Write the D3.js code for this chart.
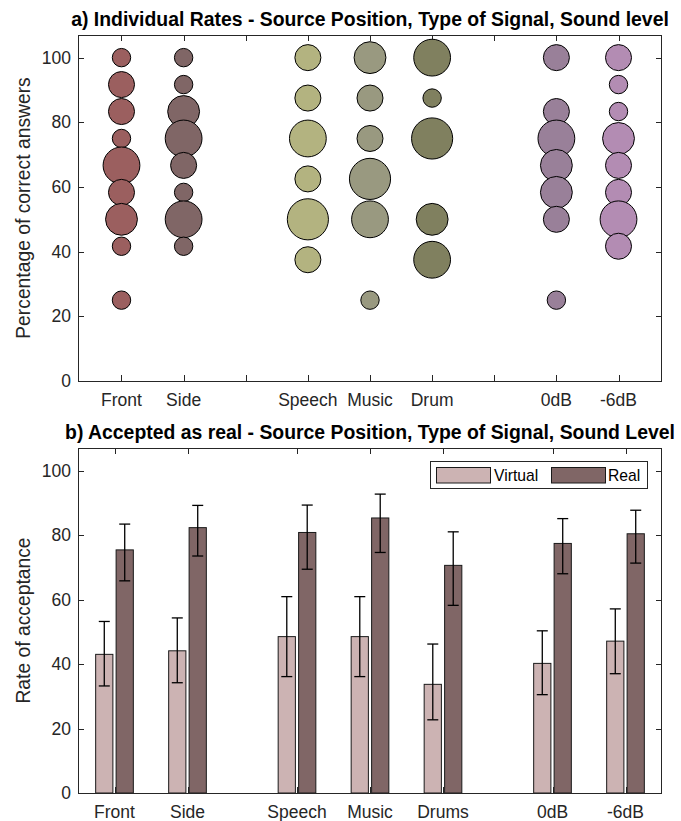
<!DOCTYPE html>
<html>
<head>
<meta charset="utf-8">
<script src="https://cdn.jsdelivr.net/npm/d3@7"></script>
<style>
  html, body { margin: 0; padding: 0; background: #fff; }
  svg { display: block; font-family: "Liberation Sans", Arial, Helvetica, sans-serif; }
</style>
</head>
<body>
<svg id="fig" width="681" height="821"></svg>
<script>
// ---- Panel a: individual rates (bubble size = number of participants) ----
const rateTickLabels = ["Front", "Side", "", "Speech", "Music", "Drum", "", "0dB", "-6dB"];
const rateGroups = ["Front", "Side", "Speech", "Music", "Drum", "0dB", "-6dB"];
const rateGroupSlots = [1, 2, 4, 5, 6, 8, 9];
const rateColors = ["#9b5f5f", "#806666", "#b3b380", "#999980", "#80805f", "#998099", "#b38cb3"];
// [percentage correct, participant count]
const ratesFront  = [[100, 1], [91.67, 2], [83.33, 2], [75, 1], [66.67, 4], [58.33, 2], [50, 3], [41.67, 1], [25, 1]];
const ratesSide   = [[100, 1], [91.67, 1], [83.33, 3], [75, 4], [66.67, 2], [58.33, 1], [50, 4], [41.67, 1]];
const ratesSpeech = [[100, 2], [87.5, 2], [75, 4], [62.5, 2], [50, 5], [37.5, 2]];
const ratesMusic  = [[100, 3], [87.5, 2], [75, 2], [62.5, 5], [50, 4], [25, 1]];
const ratesDrum   = [[100, 4], [87.5, 1], [75, 5], [50, 3], [37.5, 4]];
const rates0dB    = [[100, 2], [83.33, 2], [75, 4], [66.67, 3], [58.33, 3], [50, 2], [25, 1]];
const ratesM6dB   = [[100, 2], [91.67, 1], [83.33, 1], [75, 3], [66.67, 2], [58.33, 2], [50, 4], [41.67, 2]];
const rateSeries = [ratesFront, ratesSide, ratesSpeech, ratesMusic, ratesDrum, rates0dB, ratesM6dB];

// ---- Panel b: acceptance as real ----
const acceptCategories = ["Front", "Side", "Speech", "Music", "Drums", "0dB", "-6dB"];
const acceptSlots = [1, 2, 3.5, 4.5, 5.5, 7, 8];
const virtualMean = [43.0, 44.1, 48.5, 48.5, 33.7, 40.2, 47.1];
const virtualLow  = [33.2, 34.2, 36.1, 36.1, 22.7, 30.5, 37.0];
const virtualHigh = [53.2, 54.3, 60.9, 60.9, 46.2, 50.3, 57.1];
const realMean = [75.4, 82.3, 80.8, 85.3, 70.6, 77.4, 80.4];
const realLow  = [65.8, 73.5, 69.4, 74.6, 58.2, 68.0, 71.3];
const realHigh = [83.4, 89.2, 89.3, 92.7, 81.0, 85.1, 87.7];
const seriesNames = ["Virtual", "Real"];
const seriesColors = ["#ccb3b3", "#806666"];
const yTicks = [0, 20, 40, 60, 80, 100];

const svg = d3.select("#fig");
const axisColor = "#262626";
const tickFont = 17.5, labelFont = 19.3, titleFont = 19.4, legendFont = 15.7;
const tickLen = 6;

function drawFrame(g, x, y, xTickVals, xTickText, left, right, top, bottom) {
  const ticks = g.append("g").attr("stroke", axisColor).attr("stroke-width", 1);
  xTickVals.forEach(v => {
    const px = Math.round(x(v)) + 0.5;
    ticks.append("line").attr("x1", px).attr("x2", px).attr("y1", bottom).attr("y2", bottom - tickLen);
    ticks.append("line").attr("x1", px).attr("x2", px).attr("y1", top).attr("y2", top + tickLen);
  });
  yTicks.forEach(v => {
    const py = Math.round(y(v)) + 0.5;
    ticks.append("line").attr("x1", left).attr("x2", left + tickLen).attr("y1", py).attr("y2", py);
    ticks.append("line").attr("x1", right).attr("x2", right - tickLen).attr("y1", py).attr("y2", py);
  });
  const labels = g.append("g").attr("fill", axisColor).attr("font-size", tickFont);
  xTickVals.forEach((v, i) => {
    labels.append("text").attr("x", x(v)).attr("y", bottom + 25)
      .attr("text-anchor", "middle").text(xTickText[i]);
  });
  yTicks.forEach(v => {
    labels.append("text").attr("x", left - 7).attr("y", y(v)).attr("dy", "0.35em")
      .attr("text-anchor", "end").text(v);
  });
}

function drawBox(g, left, right, top, bottom) {
  g.append("rect").attr("x", left + 0.5).attr("y", top + 0.5)
    .attr("width", right - left - 1).attr("height", bottom - top)
    .attr("fill", "none").attr("stroke", axisColor).attr("stroke-width", 1);
}

// ---------------- Panel a ----------------
{
  const L = 78, R = 662, T = 35, B = 381;
  const x = d3.scaleLinear().domain([0.3, 9.7]).range([L, R]);
  const y = d3.scaleLinear().domain([0, 107]).range([B, T]);
  const r = d3.scaleSqrt().domain([0, 1]).range([0, 9.2]);
  const g = svg.append("g");
  const slots = rateTickLabels.map((_, i) => i + 1);
  drawFrame(g, x, y, slots, rateTickLabels, L, R, T, B);

  rateSeries.forEach((series, gi) => {
    g.append("g").selectAll("circle").data(series).join("circle")
      .attr("cx", x(rateGroupSlots[gi]))
      .attr("cy", d => y(d[0]))
      .attr("r", d => r(d[1]))
      .attr("fill", rateColors[gi])
      .attr("stroke", "#000").attr("stroke-width", 1);
  });
  drawBox(g, L, R, T, B);

  g.append("text").attr("x", (L + R) / 2).attr("y", 26).attr("text-anchor", "middle")
    .attr("font-weight", "bold").attr("font-size", titleFont).attr("fill", "#000")
    .text("a) Individual Rates - Source Position, Type of Signal, Sound level");
  g.append("text").attr("transform", `translate(30,${(T + B) / 2}) rotate(-90)`)
    .attr("text-anchor", "middle").attr("font-size", labelFont).attr("fill", axisColor)
    .text("Percentage of correct answers");
}

// ---------------- Panel b ----------------
{
  const L = 78, R = 662, T = 448, B = 793;
  const x = d3.scaleLinear().domain([0.5, 8.5]).range([L, R]);
  const y = d3.scaleLinear().domain([0, 107]).range([B, T]);
  const g = svg.append("g");
  drawFrame(g, x, y, acceptSlots, acceptCategories, L, R, T, B);

  const offset = 0.14, barW = 0.236;
  const series = [
    { mean: virtualMean, low: virtualLow, high: virtualHigh, dx: -offset, color: seriesColors[0] },
    { mean: realMean, low: realLow, high: realHigh, dx: offset, color: seriesColors[1] }
  ];
  const bw = x(barW) - x(0);
  series.forEach(s => {
    const rows = acceptSlots.map((p, i) => ({ p, m: s.mean[i], lo: s.low[i], hi: s.high[i] }));
    const bg = g.append("g");
    bg.selectAll("rect").data(rows).join("rect")
      .attr("x", d => x(d.p + s.dx) - bw / 2)
      .attr("y", d => y(d.m))
      .attr("width", bw)
      .attr("height", d => y(0) - y(d.m))
      .attr("fill", s.color)
      .attr("stroke", "#1a1a1a").attr("stroke-width", 1);
    const eg = bg.append("g").attr("stroke", "#000").attr("stroke-width", 1.3);
    rows.forEach(d => {
      const cx = x(d.p + s.dx);
      eg.append("line").attr("x1", cx).attr("x2", cx).attr("y1", y(d.lo)).attr("y2", y(d.hi));
      eg.append("line").attr("x1", cx - 5.5).attr("x2", cx + 5.5).attr("y1", y(d.lo)).attr("y2", y(d.lo));
      eg.append("line").attr("x1", cx - 5.5).attr("x2", cx + 5.5).attr("y1", y(d.hi)).attr("y2", y(d.hi));
    });
  });
  drawBox(g, L, R, T, B);

  // legend
  const lg = g.append("g");
  lg.append("rect").attr("x", 430.5).attr("y", 461.5).attr("width", 217).attr("height", 27)
    .attr("fill", "#fff").attr("stroke", axisColor).attr("stroke-width", 1);
  const legendItems = [{ x: 436, tx: 494 }, { x: 551, tx: 608 }];
  legendItems.forEach((it, i) => {
    lg.append("rect").attr("x", it.x + 0.5).attr("y", 467.5).attr("width", 54).attr("height", 15.5)
      .attr("fill", seriesColors[i]).attr("stroke", "#1a1a1a").attr("stroke-width", 1);
    lg.append("text").attr("x", it.tx).attr("y", 475.5).attr("dy", "0.36em")
      .attr("font-size", legendFont).attr("fill", "#000").text(seriesNames[i]);
  });

  g.append("text").attr("x", (L + R) / 2).attr("y", 439).attr("text-anchor", "middle")
    .attr("font-weight", "bold").attr("font-size", titleFont).attr("fill", "#000")
    .text("b) Accepted as real - Source Position, Type of Signal, Sound Level");
  g.append("text").attr("transform", `translate(30,${(T + B) / 2}) rotate(-90)`)
    .attr("text-anchor", "middle").attr("font-size", labelFont).attr("fill", axisColor)
    .text("Rate of acceptance");
}
</script>
</body>
</html>
